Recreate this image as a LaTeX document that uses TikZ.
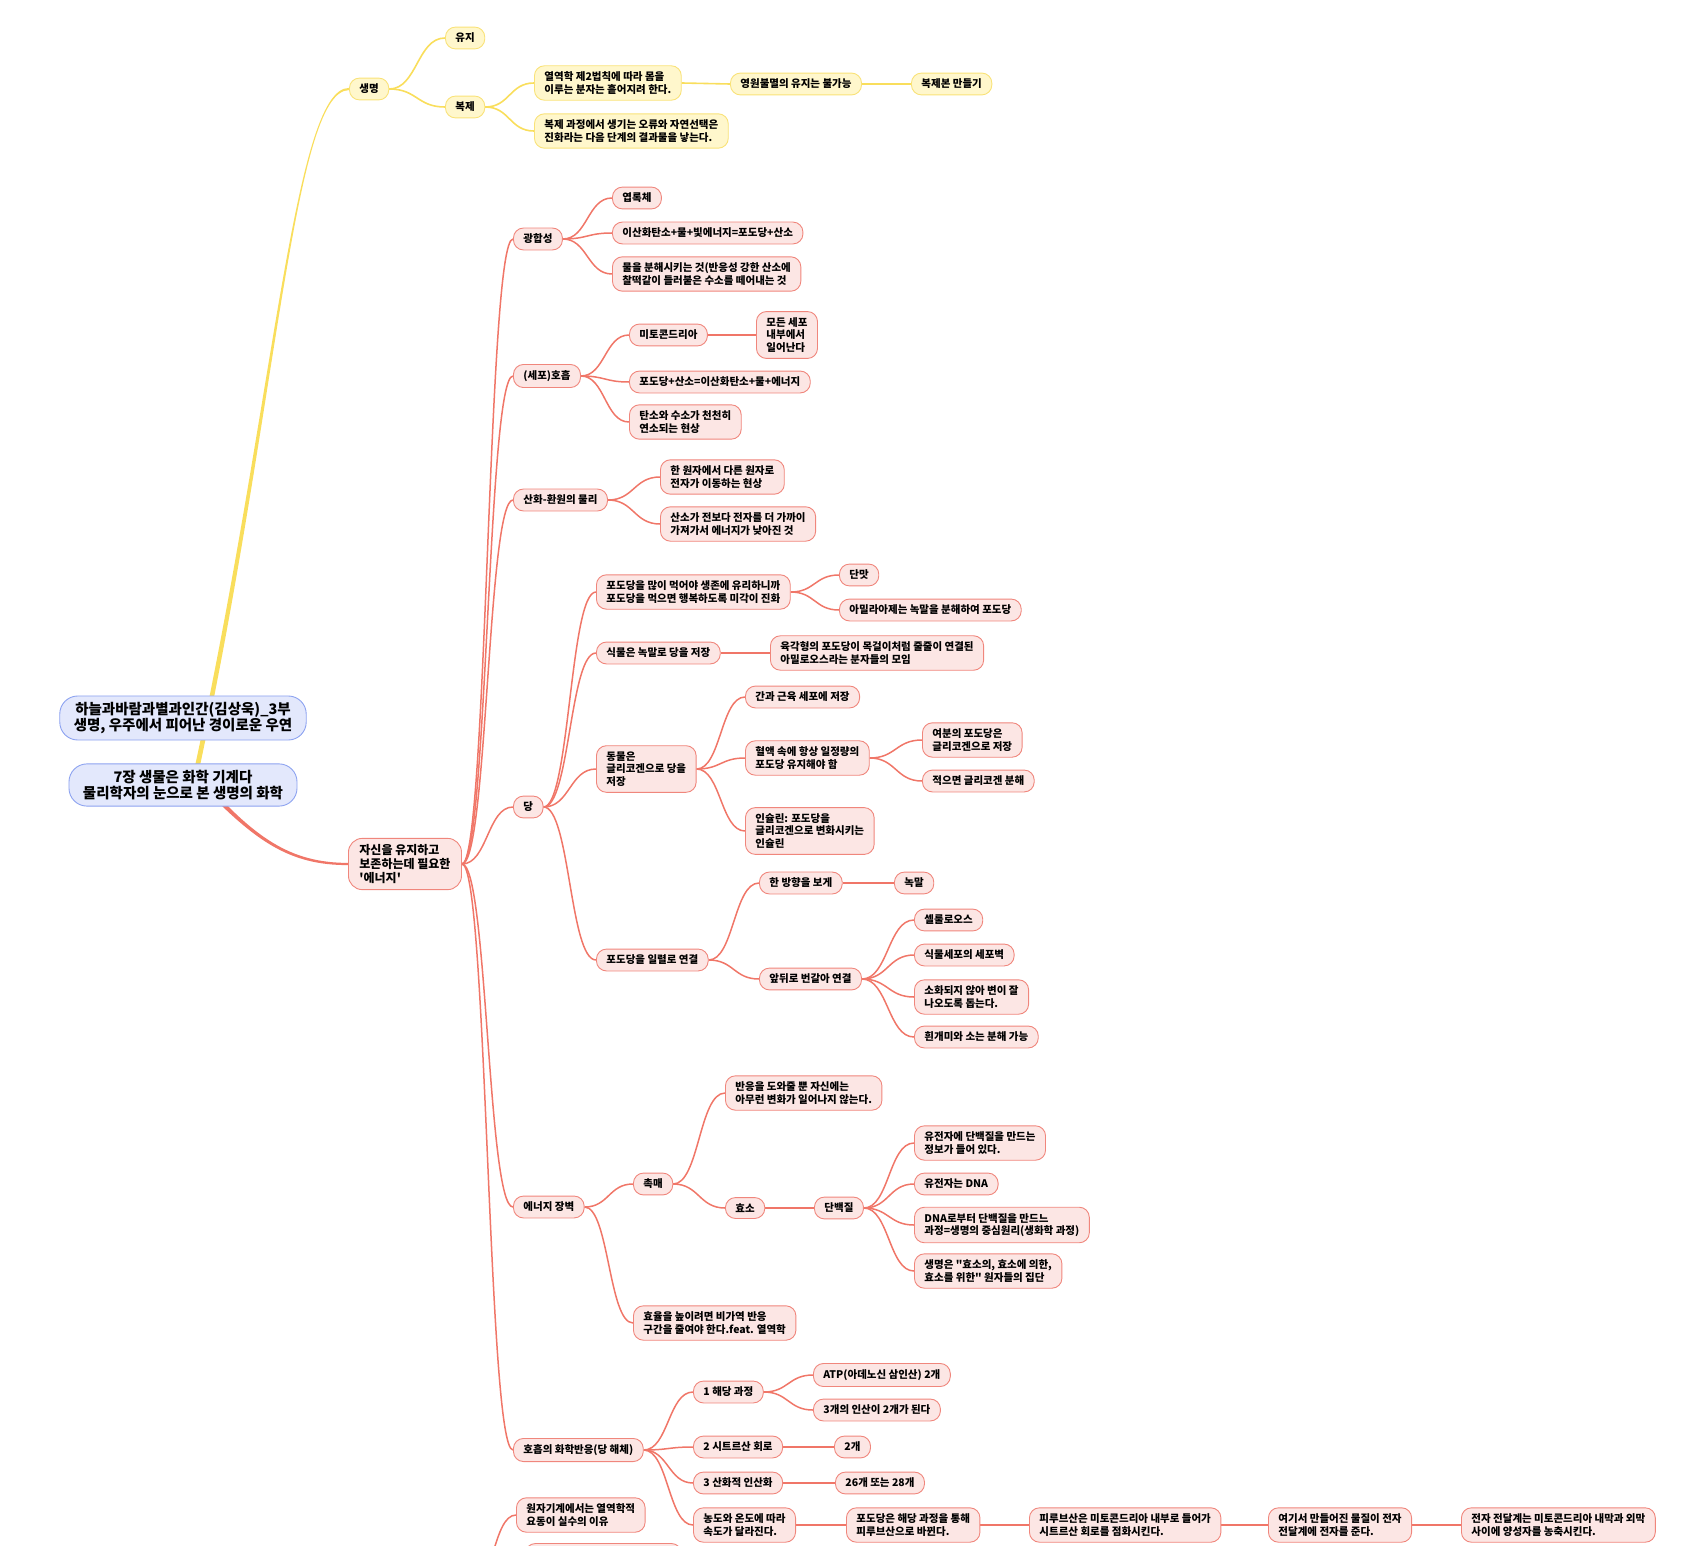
\documentclass[tikz,border=0pt]{standalone}
\usepackage{fontspec}
\newfontfamily\krfont{Noto Sans CJK KR}
\usetikzlibrary{calc,backgrounds}

\definecolor{cRootFill}{RGB}{227,232,252}
\definecolor{cRootDraw}{RGB}{140,162,240}
\definecolor{cYelFill}{RGB}{255,247,204}
\definecolor{cYelDraw}{RGB}{249,226,120}
\definecolor{cYelLine}{RGB}{249,222,92}
\definecolor{cRedFill}{RGB}{252,230,228}
\definecolor{cRedDraw}{RGB}{240,134,124}
\definecolor{cRedLine}{RGB}{240,118,104}

\tikzset{
  box/.style={rounded corners=10pt, inner xsep=10pt, inner ysep=6pt, align=left,
    anchor=west, line width=0.9pt,
    font=\krfont\bfseries\fontsize{10.5}{12.5}\selectfont},
  rootbox/.style={box, draw=cRootDraw, fill=cRootFill, rounded corners=18pt,
    align=center, anchor=center, inner xsep=14pt, inner ysep=6pt,
    font=\krfont\bfseries\fontsize{14.5}{16.5}\selectfont},
  yelbox/.style={box, draw=cYelDraw, fill=cYelFill},
  redbox/.style={box, draw=cRedDraw, fill=cRedFill},
  mainbox/.style={redbox, rounded corners=14pt, inner xsep=11pt,
    font=\krfont\bfseries\fontsize{12}{14}\selectfont},
  yelwire/.style={draw=cYelLine, line width=1.6pt},
  redwire/.style={draw=cRedLine, line width=1.5pt},
}

% curved connector from the right side of #2 to the left side of #3
\newcommand{\branch}[3][redwire]{%
  \draw[#1] (#2.east) .. controls ($(#2.east)!0.5!(#3.west |- #2.east)$)
    and ($(#3.west)!0.5!(#2.east |- #3.west)$) .. (#3.west);}

\begin{document}
\begin{tikzpicture}[x=1pt, y=-1pt]
  \useasboundingbox (0,0) rectangle (1696,1546);
  \clip (0,0) rectangle (1696,1546);

  % Root topics
  \node[rootbox] (book) at (183,718) {하늘과바람과별과인간(김상욱)\_3부\\생명, 우주에서 피어난 경이로운 우연};
  \node[rootbox] (chap) at (183,785) {7장 생물은 화학 기계다\\물리학자의 눈으로 본 생명의 화학};

  % Life branch
  \node[yelbox] (saeng) at (349,89) {생명};
  \node[yelbox] (yuji) at (445,38) {유지};
  \node[yelbox] (bokje) at (445,107) {복제};
  \node[yelbox] (yeolyeok) at (534,83) {열역학 제2법칙에 따라 몸을\\이루는 분자는 흩어지려 한다.};
  \node[yelbox] (bulmyeol) at (730,84) {영원불멸의 유지는 불가능};
  \node[yelbox] (bokjebon) at (911,84) {복제본 만들기};
  \node[yelbox] (seontaek) at (534,131) {복제 과정에서 생기는 오류와 자연선택은\\진화라는 다음 단계의 결과물을 낳는다.};

  % Energy branch
  \node[mainbox] (jasin) at (348,864) {자신을 유지하고\\보존하는데 필요한\\'에너지'};

  % Photosynthesis
  \node[redbox] (gwang) at (513,239) {광합성};
  \node[redbox] (yeoprok) at (612,198) {엽록체};
  \node[redbox] (gwangsik) at (612,233) {이산화탄소+물+빛에너지=포도당+산소};
  \node[redbox] (bunhae) at (612,274) {물을 분해시키는 것(반응성 강한 산소에\\찰떡같이 들러붙은 수소를 떼어내는 것};

  % Respiration
  \node[redbox] (hoheup) at (513,376) {(세포)호흡};
  \node[redbox] (mito) at (629,335) {미토콘드리아};
  \node[redbox] (modeun) at (756,335) {모든 세포\\내부에서\\일어난다};
  \node[redbox] (hosik) at (629,382) {포도당+산소=이산화탄소+물+에너지};
  \node[redbox] (yeonso) at (629,422) {탄소와 수소가 천천히\\연소되는 현상};

  % Redox
  \node[redbox] (sanhwa) at (513,500) {산화-환원의 물리};
  \node[redbox] (ijeon) at (660,477) {한 원자에서 다른 원자로\\전자가 이동하는 현상};
  \node[redbox] (natajin) at (660,524) {산소가 전보다 전자를 더 가까이\\가져가서 에너지가 낮아진 것};

  % Sugar
  \node[redbox] (dang) at (513,807) {당};
  \node[redbox] (migak) at (596,592) {포도당을 많이 먹어야 생존에 유리하니까\\포도당을 먹으면 행복하도록 미각이 진화};
  \node[redbox] (danmat) at (839,575) {단맛};
  \node[redbox] (amyl) at (839,610) {아밀라아제는 녹말을 분해하여 포도당};
  \node[redbox] (sikmul) at (596,653) {식물은 녹말로 당을 저장};
  \node[redbox] (amylose) at (770,653) {육각형의 포도당이 목걸이처럼 줄줄이 연결된\\아밀로오스라는 분자들의 모임};
  \node[redbox] (dongmul) at (596,769) {동물은\\글리코겐으로 당을\\저장};
  \node[redbox] (gan) at (745,697) {간과 근육 세포에 저장};
  \node[redbox] (hyeolaek) at (745,758) {혈액 속에 항상 일정량의\\포도당 유지해야 함};
  \node[redbox] (yeobun) at (922,740) {여분의 포도당은\\글리코겐으로 저장};
  \node[redbox] (jeogeum) at (922,781) {적으면 글리코겐 분해};
  \node[redbox] (insulin) at (745,831) {인슐린: 포도당을\\글리코겐으로 변화시키는\\인슐린};
  \node[redbox] (ilryeol) at (596,960) {포도당을 일렬로 연결};
  \node[redbox] (hanbang) at (759,883) {한 방향을 보게};
  \node[redbox] (nokmal) at (894,883) {녹말};
  \node[redbox] (apdwi) at (759,979) {앞뒤로 번갈아 연결};
  \node[redbox] (cellul) at (914,920) {셀룰로오스};
  \node[redbox] (sepobyeok) at (914,955) {식물세포의 세포벽};
  \node[redbox] (sohwa) at (914,997) {소화되지 않아 변이 잘\\나오도록 돕는다.};
  \node[redbox] (hingaemi) at (914,1037) {흰개미와 소는 분해 가능};

  % Energy barrier
  \node[redbox] (jangbyeok) at (513,1207) {에너지 장벽};
  \node[redbox] (chokmae) at (633,1184) {촉매};
  \node[redbox] (doum) at (725,1093) {반응을 도와줄 뿐 자신에는\\아무런 변화가 일어나지 않는다.};
  \node[redbox] (hyoso) at (725,1208) {효소};
  \node[redbox] (danbaek) at (814,1208) {단백질};
  \node[redbox] (jeongbo) at (914,1143) {유전자에 단백질을 만드는\\정보가 들어 있다.};
  \node[redbox] (dna) at (914,1184) {유전자는 DNA};
  \node[redbox] (jungsim) at (914,1225) {DNA로부터 단백질을 만드느\\과정=생명의 중심원리(생화학 과정)};
  \node[redbox] (jipdan) at (914,1271) {생명은 "효소의, 효소에 의한,\\효소를 위한" 원자들의 집단};
  \node[redbox] (hyoyul) at (633,1323) {효율을 높이려면 비가역 반응\\구간을 줄여야 한다.feat. 열역학};

  % Chemistry of respiration
  \node[redbox] (haeche) at (513,1450) {호흡의 화학반응(당 해체)};
  \node[redbox] (haedang) at (693,1392) {1 해당 과정};
  \node[redbox] (atp) at (813,1375) {ATP(아데노신 삼인산) 2개};
  \node[redbox] (insan) at (813,1410) {3개의 인산이 2개가 된다};
  \node[redbox] (citric) at (693,1447) {2 시트르산 회로};
  \node[redbox] (dugae) at (834,1447) {2개};
  \node[redbox] (oxphos) at (693,1483) {3 산화적 인산화};
  \node[redbox] (yeoldugae) at (835,1483) {26개 또는 28개};
  \node[redbox] (nongdo) at (693,1525) {농도와 온도에 따라\\속도가 달라진다.};
  \node[redbox] (pyruv) at (846,1525) {포도당은 해당 과정을 통해\\피루브산으로 바뀐다.};
  \node[redbox] (jeomhwa) at (1029,1525) {피루브산은 미토콘드리아 내부로 들어가\\시트르산 회로를 점화시킨다.};
  \node[redbox] (jeonja) at (1268,1525) {여기서 만들어진 물질이 전자\\전달계에 전자를 준다.};
  \node[redbox] (nongchuk) at (1461,1525) {전자 전달계는 미토콘드리아 내막과 외막\\사이에 양성자를 농축시킨다.};

  % Branch cut off by the lower edge
  \coordinate (offparent) at (470,1590);
  \node[redbox] (yodong) at (516,1515) {원자기계에서는 열역학적\\요동이 실수의 이유};
  \node[redbox, minimum width=156pt, minimum height=33pt] (cutoff) at (525,1560) {};

  \begin{scope}[on background layer]
    % Thick tapered lines out of the root
    \fill[cYelLine] (187.5,800) .. controls (273,420) and (292,87.8) .. ($(saeng.west)+(0,-1.1)$)
      -- ($(saeng.west)+(0,1.1)$) .. controls (292,90.2) and (277,420) .. (192.5,800) -- cycle;
    \fill[cRedLine] (201.8,778.3) .. controls (255,838) and (290,862.8) .. ($(jasin.west)+(0,-1.1)$)
      -- ($(jasin.west)+(0,1.1)$) .. controls (290,865.2) and (255,842) .. (198.2,781.7) -- cycle;

    % Life
    \branch[yelwire]{saeng}{yuji}
    \branch[yelwire]{saeng}{bokje}
    \branch[yelwire]{bokje}{yeolyeok}
    \branch[yelwire]{bokje}{seontaek}
    \branch[yelwire]{yeolyeok}{bulmyeol}
    \branch[yelwire]{bulmyeol}{bokjebon}

    % Energy
    \foreach \kid in {gwang,hoheup,sanhwa,dang,jangbyeok,haeche}
      {\branch{jasin}{\kid}}
    \foreach \kid in {yeoprok,gwangsik,bunhae}
      {\branch{gwang}{\kid}}
    \foreach \kid in {mito,hosik,yeonso}
      {\branch{hoheup}{\kid}}
    \branch{mito}{modeun}
    \branch{sanhwa}{ijeon}
    \branch{sanhwa}{natajin}
    \foreach \kid in {migak,sikmul,dongmul,ilryeol}
      {\branch{dang}{\kid}}
    \branch{migak}{danmat}
    \branch{migak}{amyl}
    \branch{sikmul}{amylose}
    \foreach \kid in {gan,hyeolaek,insulin}
      {\branch{dongmul}{\kid}}
    \branch{hyeolaek}{yeobun}
    \branch{hyeolaek}{jeogeum}
    \branch{ilryeol}{hanbang}
    \branch{ilryeol}{apdwi}
    \branch{hanbang}{nokmal}
    \foreach \kid in {cellul,sepobyeok,sohwa,hingaemi}
      {\branch{apdwi}{\kid}}
    \branch{jangbyeok}{chokmae}
    \branch{jangbyeok}{hyoyul}
    \branch{chokmae}{doum}
    \branch{chokmae}{hyoso}
    \branch{hyoso}{danbaek}
    \foreach \kid in {jeongbo,dna,jungsim,jipdan}
      {\branch{danbaek}{\kid}}
    \foreach \kid in {haedang,citric,oxphos,nongdo}
      {\branch{haeche}{\kid}}
    \branch{haedang}{atp}
    \branch{haedang}{insan}
    \branch{citric}{dugae}
    \branch{oxphos}{yeoldugae}
    \branch{nongdo}{pyruv}
    \branch{pyruv}{jeomhwa}
    \branch{jeomhwa}{jeonja}
    \branch{jeonja}{nongchuk}
    \branch{offparent}{yodong}
    \branch{offparent}{cutoff}
  \end{scope}
\end{tikzpicture}
\end{document}
